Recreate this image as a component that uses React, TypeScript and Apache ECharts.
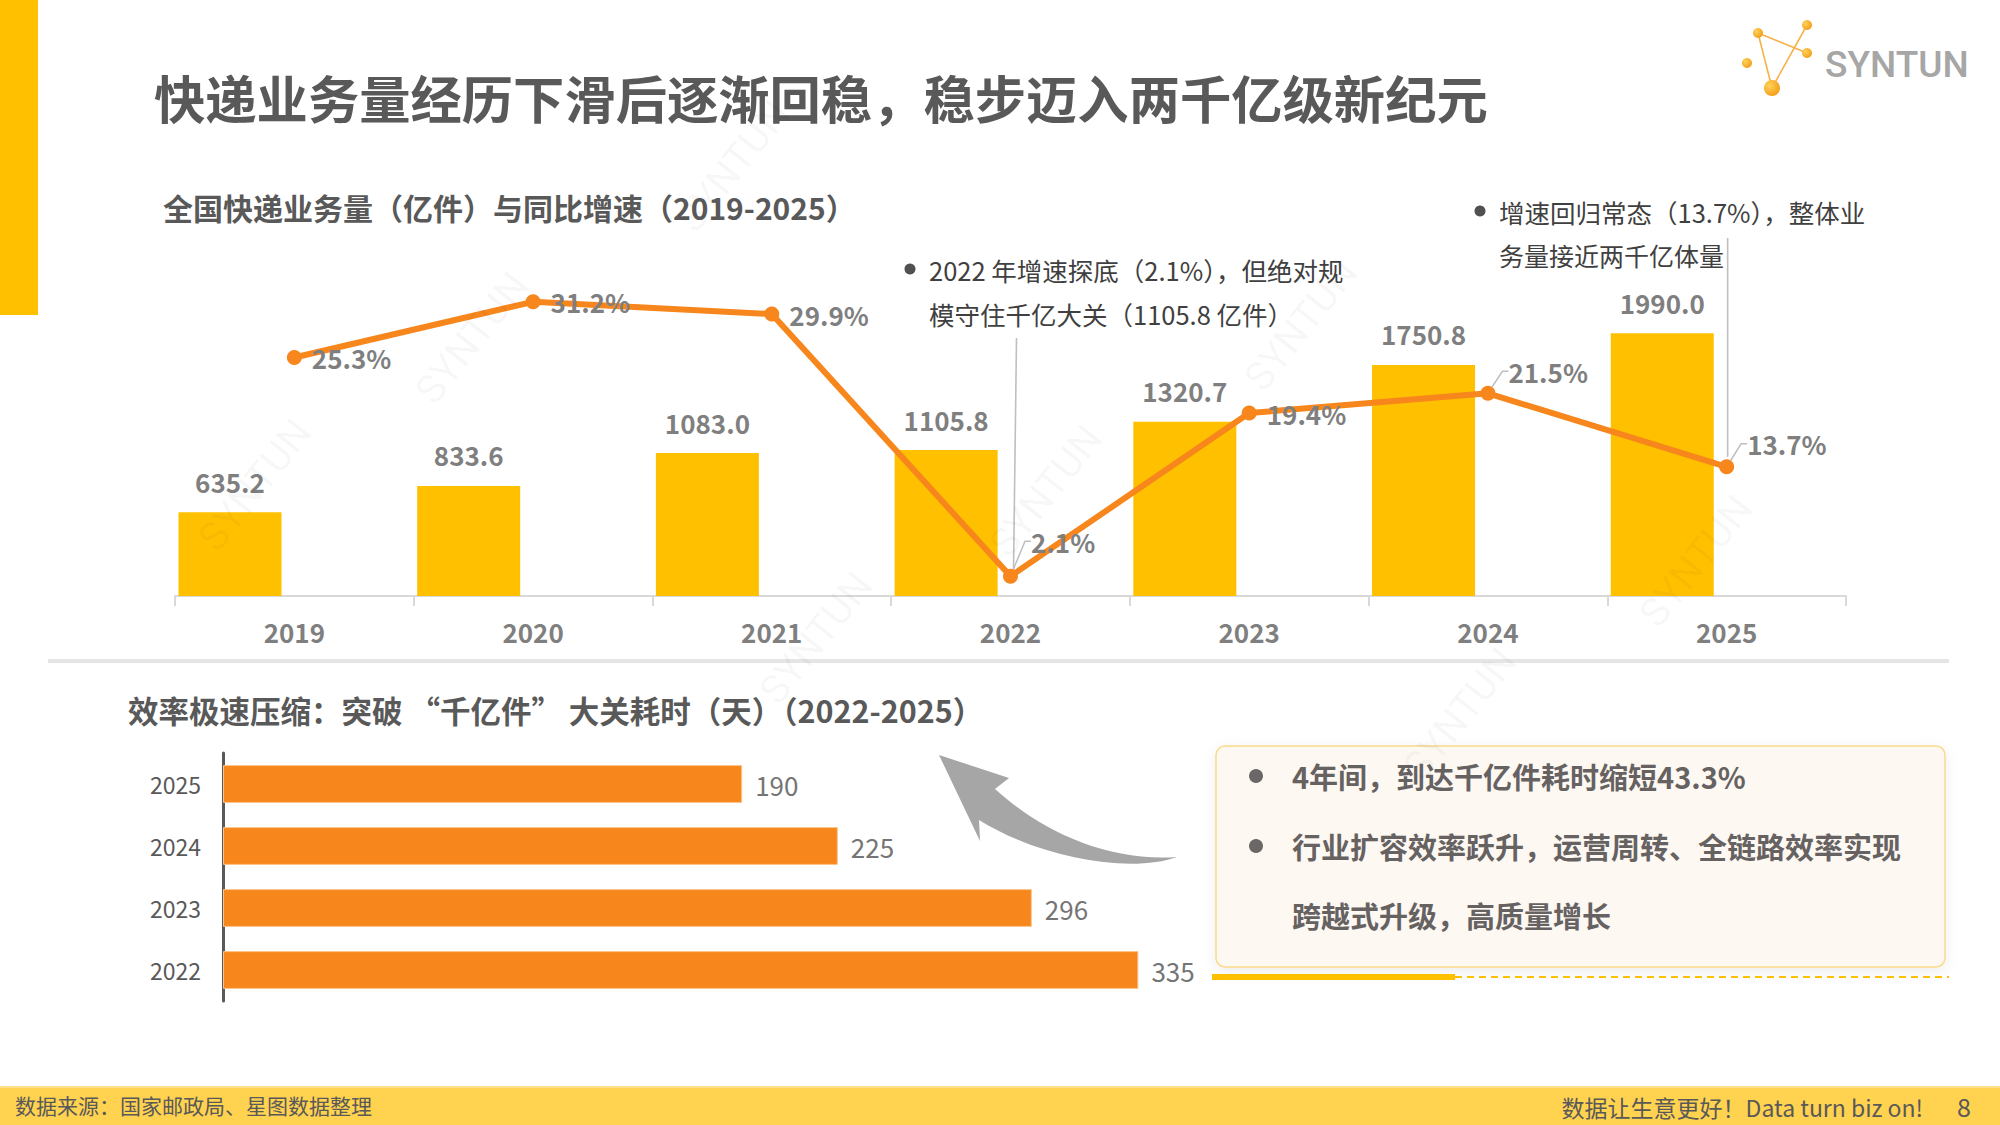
import React, { useEffect, useRef } from 'react';
import * as echarts from 'echarts';

// ---------- data ----------
const years = ['2019', '2020', '2021', '2022', '2023', '2024', '2025'];
const volume = [635.2, 833.6, 1083.0, 1105.8, 1320.7, 1750.8, 1990.0]; // 亿件
const growth = [25.3, 31.2, 29.9, 2.1, 19.4, 21.5, 13.7]; // %
const daysYears = ['2022', '2023', '2024', '2025'];
const daysToThreshold = [335, 296, 225, 190]; // 天

const titleText = '快递业务量经历下滑后逐渐回稳，稳步迈入两千亿级新纪元';
const chart1Title = '全国快递业务量（亿件）与同比增速（2019-2025）';
const chart2Title = '效率极速压缩：突破 “千亿件” 大关耗时（天）（2022-2025）';
const note2022 = ['2022 年增速探底（2.1%），但绝对规', '模守住千亿大关（1105.8 亿件）'];
const note2025 = ['增速回归常态（13.7%），整体业', '务量接近两千亿体量'];
const boxLines = ['4年间，到达千亿件耗时缩短43.3%', '行业扩容效率跃升，运营周转、全链路效率实现', '跨越式升级，高质量增长'];
const sourceText = '数据来源：国家邮政局、星图数据整理';
const sloganText = '数据让生意更好！Data turn biz on!';
const pageNo = '8';

const leaderIdx = [3, 5, 6];

const FONT = '"Noto Sans CJK SC", "Noto Sans", sans-serif';
const GRAY = '#595959';
const LABEL_GRAY = '#7F7F7F';
const GOLD = '#FFC000';
const ORANGE = '#F7861C';

const ARROW_D =
  'M 939 755 L 1009 778 L 995 789 C 1040 830, 1105 862, 1177 857 C 1130 874, 1040 858, 979 820 L 980 841 Z';

export default function App() {
  const ref = useRef<HTMLDivElement>(null);

  useEffect(() => {
    document.body.style.margin = '0';
    const el = ref.current as HTMLDivElement;
    try {
      echarts.graphic.registerShape('curvedArrow', echarts.graphic.extendPath(ARROW_D, {}) as any);
    } catch (e) {
      /* already registered */
    }
    const chart = echarts.init(el, null, { renderer: 'svg', width: 2000, height: 1125 });

    const txt = (x: number, y: number, text: string, size: number, opts: any = {}) => ({
      type: 'text',
      x,
      y,
      z: opts.z ?? 10,
      rotation: opts.rotation ?? 0,
      style: {
        text,
        fontSize: size,
        fontFamily: opts.family ?? FONT,
        fontWeight: opts.weight ?? 'normal',
        fill: opts.fill ?? GRAY,
        align: opts.align ?? 'left',
        verticalAlign: 'middle',
      },
    });

    const dotGrad = () =>
      new echarts.graphic.RadialGradient(0.35, 0.35, 0.75, [
        { offset: 0, color: '#FFD25A' },
        { offset: 1, color: '#F29A12' },
      ]);

    const watermarks = [
      [733, 166], [472, 338], [255, 485], [1301, 325], [1046, 491], [816, 638], [1460, 714], [1696, 561],
    ].map(([x, y]) =>
      txt(x, y, 'SYNTUN', 40, { z: 50, rotation: 0.9, align: 'center', fill: 'rgba(0,0,0,0.04)', family: 'Roboto' })
    );

    const baseGraphic: any[] = [
      // left accent bar
      { type: 'rect', shape: { x: 0, y: 0, width: 38, height: 315 }, style: { fill: GOLD }, z: 1 },
      // title
      txt(154, 96, titleText, 51.3, { weight: 'bold' }),
      // logo
      { type: 'line', shape: { x1: 1758, y1: 33, x2: 1772, y2: 88 }, style: { stroke: '#F6B24A', lineWidth: 1.6 }, z: 10 },
      { type: 'line', shape: { x1: 1807, y1: 25, x2: 1772, y2: 88 }, style: { stroke: '#F6B24A', lineWidth: 1.6 }, z: 10 },
      { type: 'line', shape: { x1: 1758, y1: 33, x2: 1807, y2: 53 }, style: { stroke: '#F6B24A', lineWidth: 1.6 }, z: 10 },
      { type: 'circle', shape: { cx: 1758, cy: 33, r: 5 }, style: { fill: dotGrad() }, z: 11 },
      { type: 'circle', shape: { cx: 1807, cy: 25, r: 5 }, style: { fill: dotGrad() }, z: 11 },
      { type: 'circle', shape: { cx: 1807, cy: 53, r: 5 }, style: { fill: dotGrad() }, z: 11 },
      { type: 'circle', shape: { cx: 1747, cy: 63, r: 5 }, style: { fill: dotGrad() }, z: 11 },
      { type: 'circle', shape: { cx: 1772, cy: 88, r: 8 }, style: { fill: dotGrad() }, z: 11 },
      txt(1825, 64, 'SYNTUN', 37, { family: 'Roboto', weight: 500, fill: '#A6A6A6' }),
      // chart 1 subtitle
      txt(163, 207, chart1Title, 30, { weight: 'bold' }),
      // annotations chart 1
      { type: 'circle', shape: { cx: 910, cy: 269, r: 5.5 }, style: { fill: '#505050' }, z: 10 },
      txt(929, 269, note2022[0], 25.5, { fill: '#404040' }),
      txt(929, 313, note2022[1], 25.5, { fill: '#404040' }),
      { type: 'circle', shape: { cx: 1480, cy: 211, r: 5.5 }, style: { fill: '#505050' }, z: 10 },
      txt(1499, 211, note2025[0], 25.5, { fill: '#404040' }),
      txt(1499, 255, note2025[1], 25, { fill: '#404040' }),
      // separator
      { type: 'line', shape: { x1: 48, y1: 661, x2: 1949, y2: 661 }, style: { stroke: '#E5E5E5', lineWidth: 4 }, z: 1 },
      // chart 2 subtitle
      txt(128, 710, chart2Title, 30.5, { weight: 'bold' }),
      // curved arrow
      { type: 'curvedArrow', x: 0, y: 0, scaleX: 1, scaleY: 1, style: { fill: '#A6A6A6' }, z: 10 },
      // text box
      {
        type: 'rect',
        shape: { x: 1216, y: 746, width: 729, height: 221, r: 9 },
        style: { fill: '#FDF8F2', stroke: '#FCD98C', lineWidth: 1.5, shadowBlur: 14, shadowColor: 'rgba(0,0,0,0.07)', shadowOffsetY: 4 },
        z: 5,
      },
      { type: 'circle', shape: { cx: 1256, cy: 776, r: 7 }, style: { fill: '#6B6767' }, z: 10 },
      { type: 'circle', shape: { cx: 1256, cy: 846, r: 7 }, style: { fill: '#6B6767' }, z: 10 },
      txt(1292, 776, boxLines[0], 29, { weight: 'bold', fill: '#666262' }),
      txt(1292, 846, boxLines[1], 29, { weight: 'bold', fill: '#666262' }),
      txt(1292, 915, boxLines[2], 29, { weight: 'bold', fill: '#666262' }),
      // lines under box
      { type: 'line', shape: { x1: 1212, y1: 977, x2: 1455, y2: 977 }, style: { stroke: GOLD, lineWidth: 6 }, z: 6 },
      { type: 'line', shape: { x1: 1455, y1: 977, x2: 1949, y2: 977 }, style: { stroke: GOLD, lineWidth: 1.8, lineDash: [7, 5] }, z: 6 },
      // footer
      { type: 'rect', shape: { x: 0, y: 1087, width: 2000, height: 38 }, style: { fill: '#FFD24F' }, z: 1 },
      { type: 'line', shape: { x1: 0, y1: 1087, x2: 2000, y2: 1087 }, style: { stroke: '#FFE08A', lineWidth: 2 }, z: 2 },
      txt(15, 1105, sourceText, 21, { fill: GRAY }),
      txt(1923, 1107, sloganText, 23, { fill: GRAY, align: 'right' }),
      txt(1964, 1106, pageNo, 25, { fill: GRAY, align: 'center' }),
      ...watermarks,
    ];

    const option: any = {
      animation: false,
      backgroundColor: '#ffffff',
      textStyle: { fontFamily: FONT },
      grid: [
        { left: 175, right: 154, top: 266, bottom: 529 },
        { left: 223, right: 684, top: 753, bottom: 124 },
      ],
      xAxis: [
        {
          type: 'category',
          gridIndex: 0,
          data: years,
          boundaryGap: true,
          axisLine: { show: true, lineStyle: { color: '#D9D9D9', width: 2 } },
          axisTick: { show: true, length: 10, lineStyle: { color: '#D9D9D9', width: 2 } },
          axisLabel: { color: LABEL_GRAY, fontSize: 26, fontWeight: 'bold', margin: 22, fontFamily: FONT },
          splitLine: { show: false },
        },
        {
          type: 'value',
          gridIndex: 1,
          min: 0,
          max: 400,
          show: false,
        },
      ],
      yAxis: [
        { type: 'value', gridIndex: 0, min: 0, max: 2500, show: false },
        { type: 'value', gridIndex: 0, min: 0, max: 35, show: false },
        {
          type: 'category',
          gridIndex: 1,
          data: daysYears,
          axisLine: { show: true, lineStyle: { color: '#595959', width: 3 } },
          axisTick: { show: false },
          axisLabel: { color: GRAY, fontSize: 23, margin: 22, fontFamily: FONT },
        },
      ],
      series: [
        {
          name: '快递业务量（亿件）',
          type: 'bar',
          xAxisIndex: 0,
          yAxisIndex: 0,
          data: volume,
          barWidth: 103,
          barGap: '25%',
          itemStyle: { color: GOLD },
          label: {
            show: true,
            position: 'top',
            distance: 18,
            color: LABEL_GRAY,
            fontSize: 26,
            fontWeight: 'bold',
            fontFamily: FONT,
            formatter: (p: any) => Number(p.value).toFixed(1),
          },
          z: 2,
        },
        {
          name: 'placeholder',
          type: 'bar',
          xAxisIndex: 0,
          yAxisIndex: 0,
          data: years.map(() => null),
          barWidth: 103,
          barGap: '25%',
          itemStyle: { color: 'rgba(0,0,0,0)' },
          silent: true,
        },
        {
          name: '同比增速',
          type: 'line',
          xAxisIndex: 0,
          yAxisIndex: 1,
          data: growth.map((v, i) =>
            leaderIdx.includes(i) ? { value: v, labelLine: { show: true } } : v
          ),
          symbol: 'circle',
          symbolSize: 15,
          lineStyle: { color: ORANGE, width: 6 },
          itemStyle: { color: ORANGE },
          label: {
            show: true,
            position: 'right',
            distance: 10,
            color: LABEL_GRAY,
            fontSize: 26,
            fontWeight: 'bold',
            fontFamily: FONT,
            formatter: (p: any) => Number(p.value).toFixed(1) + '%',
          },
          labelLine: { show: false, length2: 6, lineStyle: { color: '#BFBFBF', width: 1.5 } },
          labelLayout: (params: any) => {
            const i = params.dataIndex;
            if (i === 3) return { dx: 3, dy: -35 };
            if (i === 5) return { dx: 3, dy: -22 };
            if (i === 6) return { dx: 3, dy: -23 };
            return {};
          },
          z: 5,
        },
        {
          name: '突破千亿件耗时（天）',
          type: 'bar',
          xAxisIndex: 1,
          yAxisIndex: 2,
          data: daysToThreshold,
          barCategoryGap: '39%',
          itemStyle: { color: ORANGE, borderColor: '#FBC58A', borderWidth: 1 },
          label: {
            show: true,
            position: 'right',
            distance: 13,
            color: '#757575',
            fontSize: 26,
            fontFamily: FONT,
          },
        },
      ],
      graphic: baseGraphic,
    };

    chart.setOption(option);

    // annotation leader lines, anchored to the data points through the chart's scales
    const p22 = chart.convertToPixel({ xAxisIndex: 0, yAxisIndex: 1 } as any, [years[3], growth[3]]) as number[];
    const p25 = chart.convertToPixel({ xAxisIndex: 0, yAxisIndex: 1 } as any, [years[6], growth[6]]) as number[];
    const leaders = [
      { type: 'line', shape: { x1: p22[0] + 6, y1: 338, x2: p22[0] + 3, y2: p22[1] - 4 }, style: { stroke: '#BFBFBF', lineWidth: 1.6 }, z: 4 },
      { type: 'line', shape: { x1: p25[0] + 1, y1: 238, x2: p25[0] + 1, y2: p25[1] - 10 }, style: { stroke: '#BFBFBF', lineWidth: 1.6 }, z: 4 },
    ];
    chart.setOption({ graphic: [...baseGraphic, ...leaders] });

    return () => chart.dispose();
  }, []);

  return (
    <div
      ref={ref}
      style={{ position: 'absolute', left: 0, top: 0, width: 2000, height: 1125, background: '#fff' }}
    />
  );
}
